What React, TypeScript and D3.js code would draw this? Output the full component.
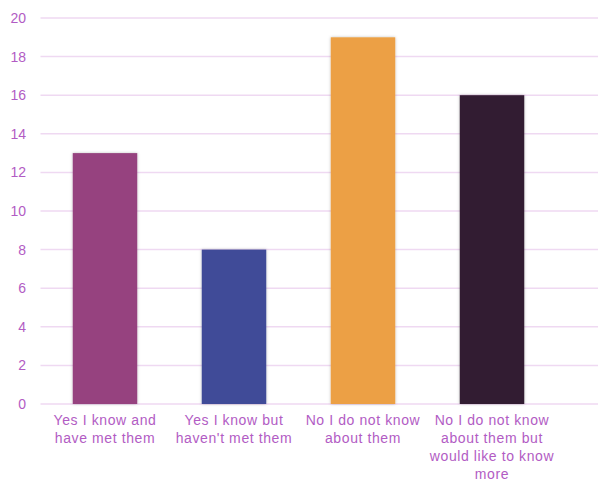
import React from "react";
import * as d3 from "d3";

const categories = [
  ["Yes I know and", "have met them"],
  ["Yes I know but", "haven't met them"],
  ["No I  do not know", "about them"],
  ["No I  do not know", "about them but", "would like to know", "more"],
];
const values = [13, 8, 19, 16];
const colors = ["#96437f", "#404b98", "#eca045", "#331a33"];
const yTicks = [0, 2, 4, 6, 8, 10, 12, 14, 16, 18, 20];

const W = 598;
const H = 482;
const left = 40.5;
const plotRight = 556.5;
const gridRight = 598;
const top = 18;
const bottom = 404;
const labelColor = "#b25cc4";

export default function App() {
  const x = d3.scaleBand<number>().domain(d3.range(values.length)).range([left, plotRight]).paddingInner(0.5).paddingOuter(0.25);
  const y = d3.scaleLinear().domain([0, 20]).range([bottom, top]);
  return (
    <svg width={W} height={H} style={{ position: "absolute", left: 0, top: 0 }} fontFamily="'Liberation Sans', Arial, sans-serif">
      <defs>
        <filter id="sh" x="-20%" y="-20%" width="140%" height="140%">
          <feDropShadow dx="0" dy="0" stdDeviation="1.5" floodColor="#000" floodOpacity="0.25" />
        </filter>
      </defs>
      <rect width={W} height={H} fill="#fff" />
      {yTicks.map((t) => (
        <g key={t}>
          <line x1={left} x2={gridRight} y1={y(t)} y2={y(t)} stroke="#efd9f2" strokeWidth={1.5} />
          <text x={26} y={y(t)} dy="0.35em" textAnchor="end" fontSize={14} fill={labelColor}>{t}</text>
        </g>
      ))}
      {values.map((v, i) => (
        <rect key={i} x={x(i)} y={y(v)} width={x.bandwidth()} height={y(0) - y(v)} fill={colors[i]} filter="url(#sh)" />
      ))}
      {categories.map((lines, i) => (
        <text key={i} textAnchor="middle" fontSize={14} letterSpacing={0.6} fill={labelColor}>
          {lines.map((l, j) => (
            <tspan key={j} x={(x(i) as number) + x.bandwidth() / 2} y={425 + j * 18}>{l}</tspan>
          ))}
        </text>
      ))}
    </svg>
  );
}
